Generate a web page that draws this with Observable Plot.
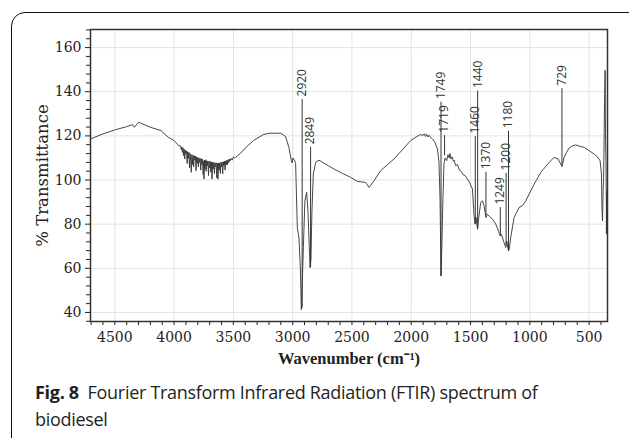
<!DOCTYPE html>
<html><head><meta charset="utf-8">
<script src="https://cdn.jsdelivr.net/npm/d3@7"></script>
<script src="https://cdn.jsdelivr.net/npm/@observablehq/plot@0.6"></script>
<style>
body{margin:0;background:#fff;width:629px;height:438px;overflow:hidden;position:relative;}
#box{position:absolute;left:11px;top:12px;width:700px;height:500px;border:1.5px solid #111;border-radius:14px;box-sizing:border-box;}
#chart{position:absolute;left:0;top:0;}
#cap{position:absolute;left:35px;top:379px;font-family:"Open Sans";font-size:18px;line-height:27px;color:#231f20;letter-spacing:-0.3px;white-space:nowrap;}
#cap b{font-weight:700;}
</style></head><body>
<div id="box"></div>
<div id="chart"></div>
<div id="cap"><b>Fig. 8</b>&nbsp; Fourier Transform Infrared Radiation (FTIR) spectrum of<br>biodiesel</div>
<script>
// Spectrum: wavenumber (cm-1) and % transmittance
const wavenumber = [4705,4600,4500,4400,4350,4335,4300,4200,4110,4050,4000,3960,
3945,3940,3935,3930,3925,3920,3915,3910,3905,3900,3895,3890,3885,3880,3875,3870,3865,3860,3855,3850,3845,3840,3835,3830,3825,3820,3815,3810,3805,3800,3795,3790,3785,3780,3775,3770,3765,3760,3755,3750,3748,3744,3740,3735,3730,3725,3720,3715,3710,3705,3700,3695,3690,3685,3680,3675,3670,3665,3660,3655,3650,3645,3640,3635,3630,3625,3620,3615,3610,3605,3600,3595,3590,3585,3580,3575,3570,3565,3560,3555,3550,3545,3540,3535,3530,3520,3510,3500,3490,
3480,3440,3400,3330,3250,3200,3100,3060,3032,3011,3005,2998,2985,2975,2961,2947,2935,2927,2918,2910,2897,2882,2871,2860,2854,2846,2838,2826,2806,2778,2700,2652,2580,2511,2454,2384,2356,2314,2258,2200,2146,2070,2005,1950,1920,1900,1890,1880,1870,1860,1850,1836,1821,1800,1779,1766,1757,1749,1742,1734,1724,1715,1701,1690,1680,1673,1665,1655,1645,1639,1625,1610,1595,1583,1565,1545,1526,1505,1484,1472,1462,1453,1447,1441,1431,1414,1400,1386,1370,1358,1340,1329,1310,1287,1265,1250,1240,1222,1210,1203,1194,1185,1178,1170,1161,1133,1091,1060,1034,1006,964,907,837,795,762,740,729,711,690,669,640,612,580,542,500,458,430,408,400,396,392,387,382,378,375,373,370,367,365,362,358,355,354,350,347,345];
const transmittance = [118.6,120.9,122.7,124.2,125.1,123.9,126.2,123.9,122.4,119.4,117.9,115.5,
115.5,113.8,115,112.5,114.6,111,114,109.5,113.5,111.8,113.2,107.5,112.8,109.8,112.5,105.5,112,108.5,103.5,111.5,107,111.2,106,111,109,110.8,104.2,110.5,107.5,110.2,106,110,108,109.8,104.5,109.6,107,109.4,102.5,108.5,100.4,109,105,109.2,104,108.8,106.5,108.6,102,108.5,105.5,108.4,103.5,108.2,100.4,108,105,108,103,107.8,106,107.8,101,107.6,100.4,107.7,104.5,107.8,103,108,106,108.2,102.8,108.3,106.5,108.5,104.5,108.7,106.8,109,107,109.2,107.8,109.5,108.5,109.8,109,110.5,110,
110.3,112.1,114.5,117.9,120.5,121.2,121.2,119.7,114.8,108.8,107.8,110,109,107.4,78.5,73.9,60,41.3,55,69.4,90.6,94.4,86,70,60.3,64,85,102.7,108,109,106.5,105,103,101.2,99.4,98.9,96.6,99.7,104.2,107,109.5,114,117.9,119.8,120.6,120.2,121,119.8,120.8,119.5,120.3,119.2,118.6,117,114.1,108,90.6,56.5,70,89.1,107.3,110,108.8,111.5,110,112,109.5,110.5,108.5,109,106.5,107,104.5,104.2,102.5,102,100.4,98.5,95.9,85,80,83,80,77.7,83,89.8,90.6,88.3,83,84.5,83.5,83,82,80,77,74.7,75.5,72.4,70.5,69.4,72.4,69,67.9,70,74,83,87.5,88.5,90.6,93.6,98.1,103.5,108,110.3,109.5,107.3,106.1,110.3,112.5,114.5,115.5,115.9,115.3,114.8,113.3,111.8,110.5,108.8,105,102.7,88,81.5,95,101.2,112,122.1,135,145,149.7,120,108.8,90,75.5,95,80,100];

// Peak annotations
const peakWn = [2920,2849,1749,1719,1460,1440,1370,1249,1200,1180,729];
const peakTop = [136.5,114.8,135.3,120.1,119.7,140.3,103.5,87.5,103,122.1,141.4];
const peakBottom = [42,60.3,56.5,111,80.1,77.9,83.8,74.7,70.1,67.9,106.5];

// Axes
const xMajor = [4500,4000,3500,3000,2500,2000,1500,1000,500];
const xMinor = d3.range(4700, 399, -100).filter(v => v % 500 !== 0);
const yMajor = [40,60,80,100,120,140,160];
const yMinor = d3.range(36, 169, 4).filter(v => v % 20 !== 0);

const spectrum = wavenumber.map((w, i) => ({w, t: transmittance[i]}));
const peaks = peakWn.map((w, i) => ({w, top: peakTop[i], bottom: peakBottom[i]}));

const chart = Plot.plot({
  width: 629, height: 380,
  marginLeft: 90, marginRight: 22, marginTop: 29, marginBottom: 59,
  style: {fontFamily: "DejaVu Serif", fontSize: "14px", color: "#222", background: "transparent"},
  x: {domain: [4705, 345], label: null},
  y: {domain: [35.9, 168.2], label: null},
  marks: [
    Plot.gridX(xMajor, {stroke: "#e3e3e3", strokeOpacity: 1}),
    Plot.gridY(yMajor, {stroke: "#e3e3e3", strokeOpacity: 1}),
    Plot.axisX(xMajor, {tickSize: 4, tickPadding: 7, stroke: "#222", tickFormat: d => String(d)}),
    Plot.axisX(xMinor, {tickSize: 4, stroke: "#222", tickFormat: () => ""}),
    Plot.axisY(yMajor, {tickSize: 5, tickPadding: 4, stroke: "#222", tickFormat: d => String(d)}),
    Plot.axisY(yMinor, {tickSize: 4, stroke: "#222", tickFormat: () => ""}),
    Plot.line(spectrum, {x: "w", y: "t", stroke: "#333", strokeWidth: 0.9}),
    Plot.ruleX(peaks, {x: "w", y1: "bottom", y2: "top", stroke: "#333", strokeWidth: 1}),
    Plot.text(peaks, {x: "w", y: "top", text: d => String(d.w), rotate: -90, textAnchor: "start", lineAnchor: "middle", dy: -3, fontFamily: "Open Sans", fontSize: 12, fill: "#333"}),
    Plot.frame({stroke: "#333", strokeWidth: 1.5}),
    Plot.text(["% Transmittance"], {frameAnchor: "left", textAnchor: "middle", rotate: -90, dx: -48, fontSize: 16.5, fill: "#222"}),
    Plot.text(["Wavenumber (cm\u207B\u00B9)"], {frameAnchor: "bottom", textAnchor: "middle", dy: 42, fontFamily: "Liberation Serif", fontWeight: "bold", fontSize: 16.5, fill: "#222"})
  ]
});
document.getElementById("chart").appendChild(chart);
</script>
</body></html>
